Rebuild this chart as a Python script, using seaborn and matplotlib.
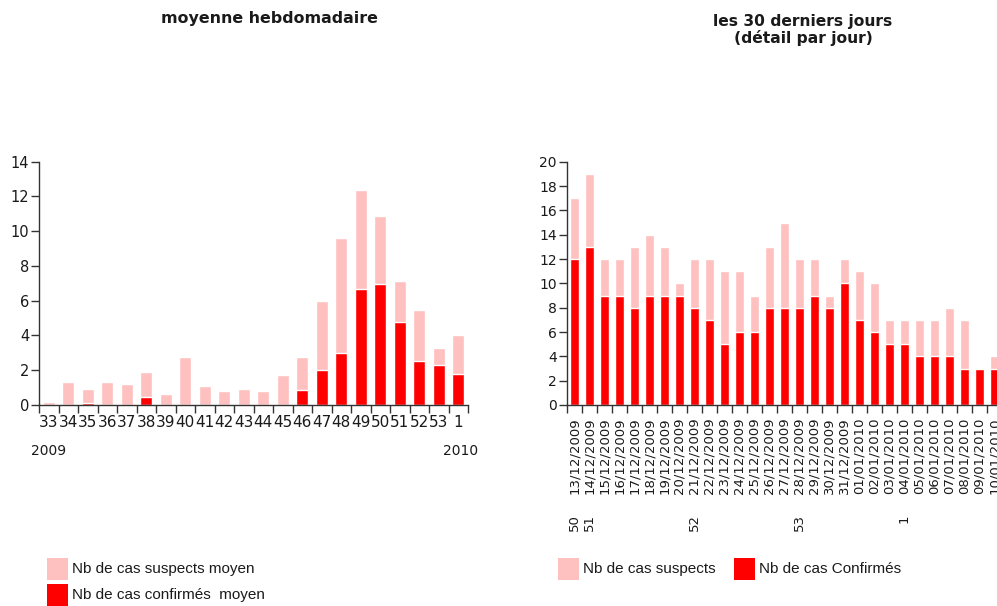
import matplotlib
matplotlib.use("Agg")
import matplotlib.pyplot as plt
import matplotlib.transforms as mtransforms
from matplotlib.patches import Rectangle
import seaborn as sns

# weekly averages (left panel)
weeks = ["33", "34", "35", "36", "37", "38", "39", "40", "41", "42", "43",
         "44", "45", "46", "47", "48", "49", "50", "51", "52", "53", "1"]
week_suspects = [0.15, 1.34, 0.92, 1.34, 1.19, 1.88, 0.65, 2.76, 1.07, 0.81, 0.92,
                 0.81, 1.73, 2.76, 6.0, 9.6, 12.4, 10.85, 7.15, 5.47, 3.3, 4.05]
week_confirmed = [0, 0, 0.12, 0, 0, 0.46, 0, 0, 0, 0, 0,
                  0, 0, 0.86, 2.0, 2.97, 6.7, 6.96, 4.8, 2.55, 2.28, 1.8]
year_labels = ["2009", "2010"]

# last 30 days (right panel)
days = ["13/12/2009", "14/12/2009", "15/12/2009", "16/12/2009", "17/12/2009",
        "18/12/2009", "19/12/2009", "20/12/2009", "21/12/2009", "22/12/2009",
        "23/12/2009", "24/12/2009", "25/12/2009", "26/12/2009", "27/12/2009",
        "28/12/2009", "29/12/2009", "30/12/2009", "31/12/2009", "01/01/2010",
        "02/01/2010", "03/01/2010", "04/01/2010", "05/01/2010", "06/01/2010",
        "07/01/2010", "08/01/2010", "09/01/2010", "10/01/2010"]
day_suspects = [17, 19, 12, 12, 13, 14, 13, 10, 12, 12, 11, 11, 9, 13, 15,
                12, 12, 9, 12, 11, 10, 7, 7, 7, 7, 8, 7, 3, 4]
day_confirmed = [12, 13, 9, 9, 8, 9, 9, 9, 8, 7, 5, 6, 6, 8, 8,
                 8, 9, 8, 10, 7, 6, 5, 5, 4, 4, 4, 3, 3, 3]
week_mark_days = ["13/12/2009", "14/12/2009", "21/12/2009", "28/12/2009", "04/01/2010"]
week_mark_labels = ["50", "51", "52", "53", "1"]

PINK = "#FFC0C0"
RED = "#FF0000"
TXT = "#1a1a1a"

sns.set_theme(style="white")
plt.rcParams["font.family"] = ["DejaVu Sans"]

fig = plt.figure(figsize=(9.97, 6.06), dpi=100)
W, H = 997, 606


def px_axes(x0, x1, y_top, y_bot):
    return fig.add_axes([x0 / W, 1 - y_bot / H, (x1 - x0) / W, (y_bot - y_top) / H])


def draw_bars(ax, cats, totals, confirmed, width):
    sns.barplot(x=cats, y=totals, order=cats, color=PINK, saturation=1,
                width=width, errorbar=None, ax=ax)
    sns.barplot(x=cats, y=confirmed, order=cats, color=RED, saturation=1,
                width=width, errorbar=None, ax=ax)
    n = len(cats)
    ax.set_xlim(-0.5, n - 0.5)
    for s in ["top", "right"]:
        ax.spines[s].set_visible(False)
    for s in ["left", "bottom"]:
        ax.spines[s].set_color("#333333")
        ax.spines[s].set_linewidth(1.0)
    # boundaries as major ticks, labels on minor ticks at bar centers
    ax.set_xticks([i - 0.5 for i in range(n + 1)])
    ax.set_xticklabels([])
    ax.set_xticks(range(n), minor=True)
    ax.tick_params(axis="x", which="major", direction="out", length=6,
                   width=1, color="#333333", bottom=True)
    ax.tick_params(axis="y", direction="out", length=6, width=1,
                   color="#333333", left=True, pad=1)
    ax.set_xlabel("")
    ax.set_ylabel("")
    ax.grid(False)


# left panel
ax1 = px_axes(39, 468, 161.7, 405)
draw_bars(ax1, weeks, week_suspects, week_confirmed, 0.6)
ax1.set_ylim(0, 14)
ax1.set_yticks(range(0, 15, 2))
ax1.set_yticklabels([str(v) for v in range(0, 15, 2)], fontsize=10.5, color=TXT)
ax1.set_xticklabels(weeks, minor=True, fontsize=11, color=TXT)
ax1.tick_params(axis="x", which="minor", length=0, pad=7)
trans1 = mtransforms.blended_transform_factory(ax1.transData, ax1.transAxes)
ax1.text(0, -0.19, year_labels[0], transform=trans1, ha="center", va="center",
         fontsize=10, color=TXT)
ax1.text(len(weeks) - 0.9, -0.19, year_labels[1], transform=trans1, ha="center",
         va="center", fontsize=10, color=TXT)

# right panel
ax2 = px_axes(566.7, 1002, 161.7, 405)
draw_bars(ax2, days, day_suspects, day_confirmed, 0.62)
ax2.set_ylim(0, 20)
ax2.set_yticks(range(0, 21, 2))
ax2.set_yticklabels([str(v) for v in range(0, 21, 2)], fontsize=10, color=TXT)
ax2.set_xticklabels(days, minor=True, rotation=90, fontsize=9.5, color=TXT)
ax2.tick_params(axis="x", which="minor", length=0, pad=9)
trans2 = mtransforms.blended_transform_factory(ax2.transData, ax2.transAxes)
for d, lab in zip(week_mark_days, week_mark_labels):
    ax2.text(days.index(d), -0.45, lab, transform=trans2, rotation=90,
             ha="center", va="top", fontsize=9.5, color=TXT)

# titles
fig.text(269 / W, 1 - 19 / H, "moyenne hebdomadaire", ha="center", va="center",
         fontsize=11.4, fontweight="bold", color=TXT)
fig.text(803 / W, 1 - 30 / H, "les 30 derniers jours\n(détail par jour)",
         ha="center", va="center", fontsize=11.2, fontweight="bold", color=TXT,
         linespacing=1.05)

# legends
def legend_item(x, y, color, label):
    fig.add_artist(Rectangle((x / W, 1 - (y + 11) / H), 21 / W, 22 / H,
                             transform=fig.transFigure, facecolor=color,
                             edgecolor="none"))
    fig.text((x + 25) / W, 1 - y / H, label, ha="left", va="center",
             fontsize=11, color=TXT, family=["Liberation Sans Narrow", "Liberation Sans"])


legend_item(47, 569, PINK, "Nb de cas suspects moyen")
legend_item(47, 595, RED, "Nb de cas confirmés  moyen")
legend_item(558, 569, PINK, "Nb de cas suspects")
legend_item(734, 569, RED, "Nb de cas Confirmés")

fig.savefig("out.png", dpi=100)
